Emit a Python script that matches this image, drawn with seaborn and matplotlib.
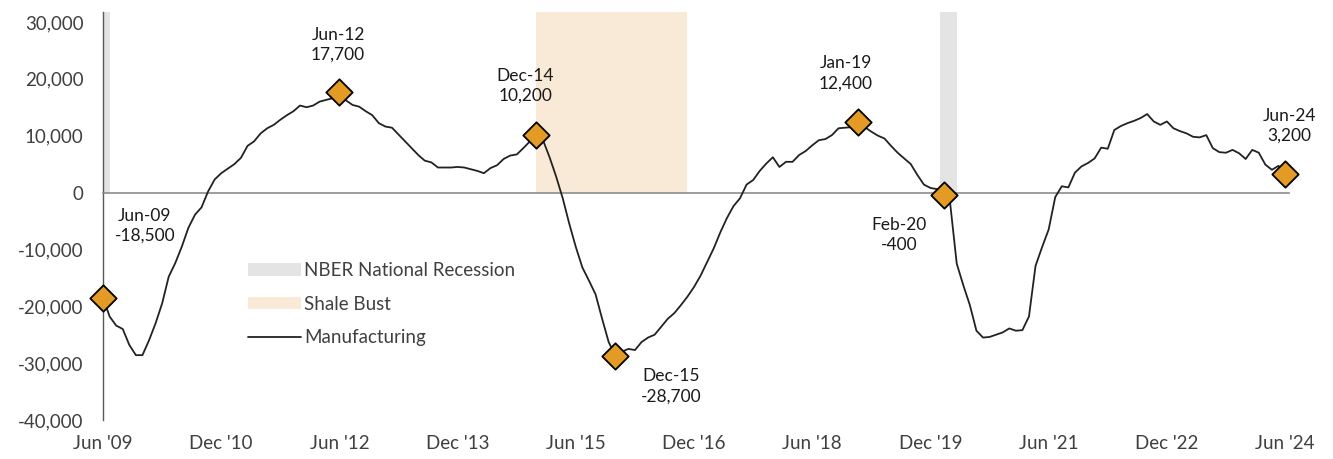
import pandas as pd
import matplotlib.pyplot as plt
import seaborn as sns
from matplotlib.patches import Patch
from matplotlib.lines import Line2D

# Monthly change in manufacturing jobs, Jun 2009 - Jun 2024
months = pd.period_range("2009-06", "2024-06", freq="M")
manufacturing = [
    -18500, -21800, -23400, -24000, -26800, -28600, -28600, -26000, -23000, -19500,
    -14800, -12400, -9500, -6200, -3900, -2600, 200, 2300, 3400, 4200,
    5000, 6100, 8200, 9000, 10400, 11300, 11900, 12800, 13600, 14300,
    15300, 15000, 15300, 16000, 16300, 16600, 17700, 16200, 15400, 15100,
    14300, 13600, 12200, 11600, 11400, 10200, 9000, 7800, 6600, 5600,
    5300, 4400, 4400, 4400, 4500, 4400, 4100, 3800, 3400, 4300,
    4800, 5900, 6500, 6700, 7800, 9000, 10200, 9200, 6200, 2800,
    -1000, -5500, -9600, -13200, -15500, -17900, -22200, -26300, -28700, -28000,
    -27500, -27700, -26300, -25500, -25000, -23600, -22200, -21200, -19800, -18300,
    -16600, -14600, -12200, -9800, -7000, -4500, -2400, -1000, 1400, 2200,
    3800, 5100, 6200, 4500, 5400, 5400, 6600, 7300, 8300, 9200,
    9400, 10100, 11300, 11400, 11500, 12400, 11500, 10700, 10000, 9500,
    8200, 7000, 6000, 5000, 3100, 1400, 800, 600, -400, -1900,
    -12500, -16300, -19800, -24300, -25500, -25400, -25000, -24600, -23900, -24300,
    -24200, -21800, -12900, -9600, -6500, -800, 1100, 900, 3500, 4600,
    5200, 6000, 7900, 7700, 11000, 11700, 12200, 12600, 13100, 13800,
    12500, 11900, 12500, 11300, 10800, 10400, 9800, 9700, 10100, 7800,
    7100, 7000, 7500, 6900, 5900, 7500, 7000, 4900, 4000, 4700,
    3200,
]

recession_start = ["2009-06", "2020-02"]
recession_end = ["2009-07", "2020-04"]
shale_start = "2014-12"
shale_end = "2016-11"

highlight_months = ["2009-06", "2012-06", "2014-12", "2015-12", "2019-01", "2020-02", "2024-06"]
# label offsets (points) from each highlighted marker
label_offsets = [(30, 52), (-1, 34), (-8, 35), (40, -22), (-9, 35), (-32, -29), (3, 35)]

tick_every = 18
y_ticks = [-40000, -30000, -20000, -10000, 0, 10000, 20000, 30000]
y_min, y_max = -40000, 31800

df = pd.DataFrame({"x": range(len(months)), "value": manufacturing})
pos = {str(p): i for i, p in enumerate(months)}

sns.set_theme(style="white")
plt.rcParams["font.family"] = ["Lato", "DejaVu Sans"]

text_color = "#404040"
orange = "#E39B26"
shale_color = "#F9EAD7"
rec_color = "#E4E4E4"

fig = plt.figure(figsize=(13.33, 4.59), dpi=100)
ax = fig.add_axes([0.0773, 0.085, 0.8897, 0.8895])

# Shaded periods, drawn from the zero line up
zero_frac = (0 - y_min) / (y_max - y_min)
for s, e in zip(recession_start, recession_end):
    ax.axvspan(pos[s] - 0.5, pos[e], ymin=zero_frac, ymax=1, color=rec_color, lw=0, zorder=0)
ax.axvspan(pos[shale_start], pos[shale_end], ymin=zero_frac, ymax=1,
           color=shale_color, lw=0, zorder=0)

sns.lineplot(data=df, x="x", y="value", color="#222222", linewidth=1.3, ax=ax, zorder=3)

hl = df.loc[[pos[m] for m in highlight_months]]
sns.scatterplot(data=hl, x="x", y="value", marker="D", s=180, color=orange,
                edgecolor="black", linewidth=1.3, ax=ax, zorder=4, legend=False,
                clip_on=False)

for (_, row), m, off in zip(hl.iterrows(), highlight_months, label_offsets):
    label = pd.Period(m, freq="M").strftime("%b-%y") + "\n" + f"{int(row['value']):,}"
    ax.annotate(label, (row["x"], row["value"]), xytext=off, textcoords="offset points",
                ha="center", va="center", fontsize=12.5, color="#1a1a1a",
                linespacing=1.3, zorder=5)

ax.set_xlim(0, len(months) - 1 + 0.6)
ax.set_ylim(y_min, y_max)
ax.set_yticks(y_ticks)
ax.set_yticklabels([f"{v:,}" for v in y_ticks])
ax.tick_params(axis="y", length=0, pad=14, labelsize=13.5, labelcolor=text_color)

# x axis sits on the zero line, labels along the bottom
tick_pos = list(range(0, len(months), tick_every))
tick_lab = [months[i].strftime("%b '%y") for i in tick_pos]
ax.spines["bottom"].set_position(("data", 0))
ax.spines["bottom"].set_color("#8c8c8c")
ax.spines["bottom"].set_linewidth(1.2)
ax.set_xticks(tick_pos)
ax.tick_params(axis="x", direction="out", length=5, width=1, color="#8c8c8c",
               labelbottom=False)
for sp in ["top", "right"]:
    ax.spines[sp].set_visible(False)
ax.spines["left"].set_color("#595959")
ax.spines["left"].set_linewidth(1.0)
ax.set_xlabel("")
ax.set_ylabel("")

sec = ax.secondary_xaxis("bottom")
sec.set_xticks(tick_pos, labels=tick_lab)
sec.tick_params(length=0, pad=11, labelsize=13.5, labelcolor=text_color)
sec.spines["bottom"].set_visible(False)

handles = [
    Patch(facecolor=rec_color, edgecolor="none", label="NBER National Recession"),
    Patch(facecolor=shale_color, edgecolor="none", label="Shale Bust"),
    Line2D([0], [0], color="#222222", lw=1.3, label="Manufacturing"),
]
ax.legend(handles=handles, loc="upper left", bbox_to_anchor=(0.108, 0.428), frameon=False,
          fontsize=13.5, labelcolor=text_color, handlelength=2.8, handleheight=0.65,
          handletextpad=0.2, labelspacing=0.88)

fig.savefig("out.png", dpi=100)
